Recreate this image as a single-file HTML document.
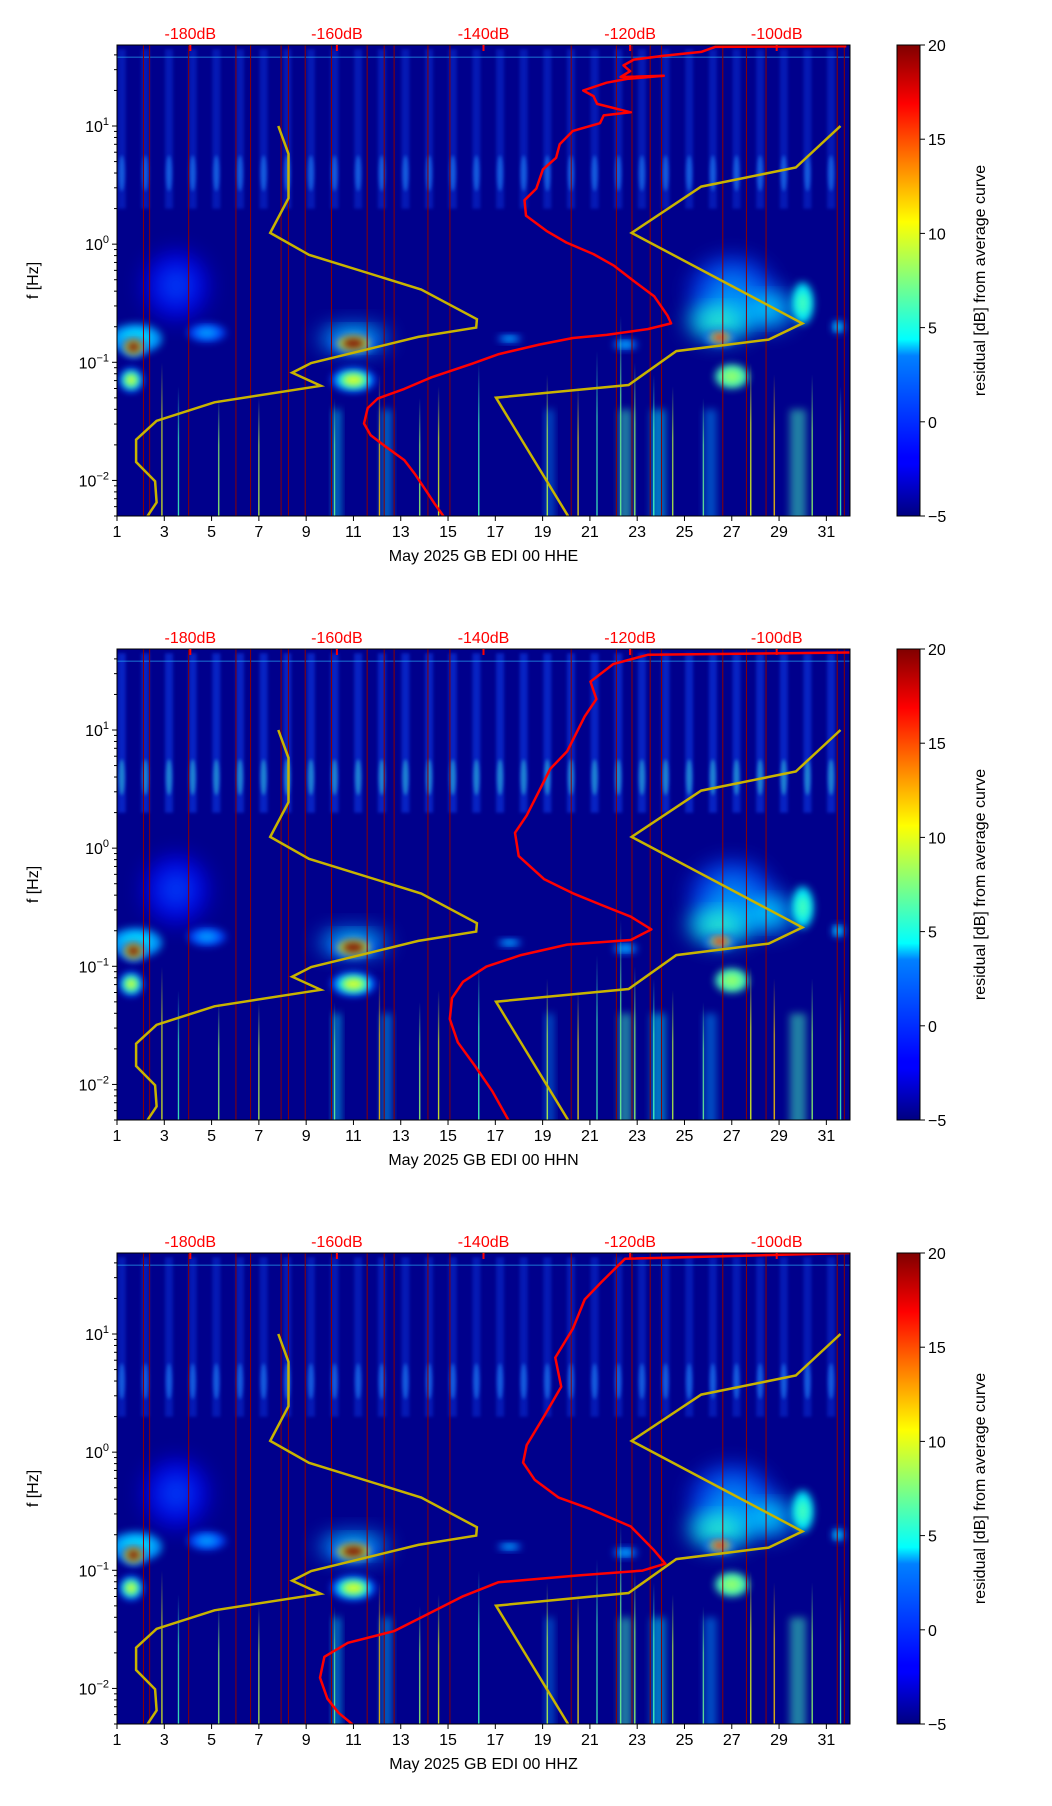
<!DOCTYPE html>
<html><head><meta charset="utf-8"><style>
html,body{margin:0;padding:0;background:#fff;}
svg{display:block;font-family:"Liberation Sans",sans-serif;}
</style></head><body>
<svg id="fig" width="1052" height="1806" viewBox="0 0 1052 1806" xmlns="http://www.w3.org/2000/svg">
<defs>
<filter id="b4" x="-50%" y="-50%" width="200%" height="200%"><feGaussianBlur stdDeviation="4"/></filter>
<filter id="b10" x="-50%" y="-50%" width="200%" height="200%"><feGaussianBlur stdDeviation="10"/></filter>
<filter id="b2" x="-50%" y="-50%" width="200%" height="200%"><feGaussianBlur stdDeviation="1.5"/></filter>
<linearGradient id="fadeUp" x1="0" y1="1" x2="0" y2="0">
<stop offset="0" stop-color="#fff" stop-opacity="1"/><stop offset="0.6" stop-color="#fff" stop-opacity="0.8"/><stop offset="1" stop-color="#fff" stop-opacity="0"/>
</linearGradient>
<mask id="spikeMask" maskContentUnits="objectBoundingBox"><rect x="0" y="0" width="1" height="1" fill="url(#fadeUp)"/></mask>
<linearGradient id="jet" x1="0" y1="1" x2="0" y2="0">
<stop offset="0" stop-color="#000080"/><stop offset="0.11" stop-color="#0000ff"/><stop offset="0.125" stop-color="#0000ff"/>
<stop offset="0.34" stop-color="#0080ff"/><stop offset="0.375" stop-color="#00ffff"/><stop offset="0.5" stop-color="#80ff80"/>
<stop offset="0.625" stop-color="#ffff00"/><stop offset="0.75" stop-color="#ff8000"/><stop offset="0.875" stop-color="#ff0000"/><stop offset="1" stop-color="#800000"/>
</linearGradient>
</defs>
</svg>
<script>
// ---- data ----
const dayTicks = [1,3,5,7,9,11,13,15,17,19,21,23,25,27,29,31];
const dbTicks = [-180,-160,-140,-120,-100];
const freqTickExps = [-2,-1,0,1];
const cbarTicks = [-5,0,5,10,15,20];
const panelTitles = ["May 2025 GB EDI 00 HHE","May 2025 GB EDI 00 HHN","May 2025 GB EDI 00 HHZ"];
const nlnmDb = [-168,-166.6,-166.6,-169.1,-163.8,-148.5,-140.9,-141,-148.9,-163.5,-166.1,-162.2,-176.7,-184.6,-187.4,-187.4,-184.8,-184.6,-185.9];
const nlnmLogF = [1.0,0.764,0.389,0.095,-0.09,-0.384,-0.635,-0.706,-0.785,-1.006,-1.088,-1.199,-1.339,-1.495,-1.655,-1.844,-2.007,-2.186,-2.307];
const nhnmDb = [-91.3,-97.4,-110.3,-119.8,-96.5,-101.1,-113.7,-120.2,-138.3,-128.4];
const nhnmLogF = [1.0,0.649,0.487,0.095,-0.671,-0.808,-0.905,-1.192,-1.3,-2.307];
const redDb1 = [-90.5,-108.4,-110.3,-115.4,-119.5,-120.9,-120,-121.3,-115.4,-120.4,-123.2,-126.4,-125,-124.5,-119.9,-123.6,-124.1,-127.8,-129.6,-130.1,-131.9,-132.8,-134.4,-134.2,-131.4,-128.7,-125,-122.2,-119.5,-116.7,-114.9,-114.4,-117.6,-123.2,-127.8,-132.4,-137.9,-141.6,-147.1,-150.8,-154.4,-155.8,-156.3,-155.4,-153.5,-150.8,-149.4,-148,-146.6,-145.4];
const redLogF1 = [1.676,1.670,1.627,1.595,1.562,1.513,1.464,1.415,1.425,1.399,1.367,1.301,1.253,1.187,1.116,1.09,1.024,0.959,0.845,0.731,0.633,0.47,0.372,0.242,0.112,0.014,-0.084,-0.182,-0.312,-0.442,-0.605,-0.671,-0.719,-0.768,-0.794,-0.85,-0.931,-1.013,-1.127,-1.225,-1.306,-1.388,-1.518,-1.616,-1.707,-1.828,-1.942,-2.072,-2.203,-2.307];
const redDb2 = [-90,-117.6,-122.3,-125.4,-124.6,-126.2,-128.6,-130.9,-132.5,-134.1,-135.7,-135.2,-131.7,-127.8,-123.9,-119.9,-117.1,-119.9,-128.6,-134.9,-139.6,-142.8,-144.3,-144.6,-143.5,-141.2,-138.8,-136.5];
const redLogF2 = [1.656,1.637,1.558,1.41,1.262,1.115,0.819,0.671,0.474,0.277,0.13,-0.067,-0.264,-0.382,-0.481,-0.58,-0.688,-0.777,-0.816,-0.905,-1.003,-1.131,-1.269,-1.446,-1.643,-1.84,-2.057,-2.313];
const redDb3 = [-90,-120.7,-123.9,-126.2,-127.8,-130.2,-129.4,-131.7,-134.1,-134.6,-133,-129.8,-125.4,-119.9,-116.8,-115.2,-118.3,-127,-138,-142.8,-147.5,-152.2,-158.5,-161.7,-162.3,-161.3,-159.8,-157.7];
const redLogF3 = [1.686,1.637,1.44,1.292,1.046,0.8,0.553,0.307,0.06,-0.088,-0.235,-0.383,-0.482,-0.629,-0.826,-0.944,-1.003,-1.043,-1.102,-1.22,-1.368,-1.515,-1.614,-1.732,-1.909,-2.087,-2.205,-2.313];
const gapDays = [2.12,2.38,4.03,6.03,6.65,7.94,8.25,8.96,10.07,11.58,12.3,12.72,14.15,15.08,20.21,22.12,22.78,23.55,24.03,26.62,27.62,28.45,31.46,31.76];
const blobDay = [3.5,27,28.5,30,1.8,11,1.7,11,1.6,11,26.5,26.5,27,17.6,4.8,22.5,31.5];
const blobLogF = [-0.35,-0.4,-0.55,-0.5,-0.8,-0.8,-0.87,-0.84,-1.15,-1.15,-0.65,-0.79,-1.12,-0.8,-0.75,-0.85,-0.7];
const blobW = [2.8,3.6,2.5,0.9,2.2,3.0,1.1,1.9,1.0,1.9,2.8,1.3,1.4,1.0,1.6,1.0,0.5];
const blobH = [0.6,0.6,0.35,0.35,0.25,0.25,0.18,0.18,0.2,0.2,0.35,0.13,0.2,0.06,0.15,0.08,0.1];
const blobVal = [0,2,4,6,4,4,20,20,10,10,6,16,8,3,2,3,4];
const spikeDay = [2.9,3.6,5.3,7,10.2,12.1,13.8,14.6,16.3,19.2,20.5,21.3,22.3,22.9,23.7,24.5,25.8,27.8,28.8,30.4,31.6];
const spikeTop = [-1.0,-1.2,-1.3,-1.3,-1.3,-1.1,-1.3,-1.2,-1.0,-1.1,-1.2,-0.9,-0.6,-1.0,-1.1,-1.2,-1.3,-1.0,-1.1,-1.1,-1.2];
const spikeVal = [10,6,8,9,7,12,8,10,6,9,11,6,7,8,6,9,7,10,12,8,6];
const glowDay = [10.3,12.4,22.5,23.9,29.8,26.1,19.3];
const glowW = [0.4,0.5,0.6,0.7,0.8,0.6,0.4];
const glowVal = [4,3,6,4,6,2,2];

// ---- layout ----
const NS = "http://www.w3.org/2000/svg";
const svg = document.getElementById('fig');
const L = 117, R = 850, PH = 471;
const tops = [45,649,1253];
const dMin = 1, dMax = 32, lfMin = Math.log10(0.005), lfMax = Math.log10(48.5), dbMin = -190, dbMax = -90;
const xDay = d => L + (d - dMin) / (dMax - dMin) * (R - L);
const xDb = v => L + (v - dbMin) / (dbMax - dbMin) * (R - L);
function yF(top){ return lf => top + (lfMax - lf) / (lfMax - lfMin) * PH; }
function jet(val){
  const v = Math.max(0, Math.min(1, (val + 5) / 25));
  const c = t => Math.round(255 * Math.max(0, Math.min(1, 1.5 - Math.abs(4 * v - t))));
  return `rgb(${c(3)},${c(2)},${c(1)})`;
}
function el(tag, attrs, parent){
  const e = document.createElementNS(NS, tag);
  for (const k in attrs) e.setAttribute(k, attrs[k]);
  (parent || svg).appendChild(e);
  return e;
}
function txt(s, attrs, parent){ const t = el('text', attrs, parent); t.textContent = s; return t; }

const reds = [[redDb1, redLogF1],[redDb2, redLogF2],[redDb3, redLogF3]];
const pxPerDay = (R - L) / (dMax - dMin);
const pxPerDec = PH / (lfMax - lfMin);

tops.forEach((top, pi) => {
  const y = yF(top);
  const g = el('g', {});
  
  
  const cp = el('clipPath', {id: 'clip' + pi}, g);
  el('rect', {x: L, y: top, width: R - L, height: PH}, cp);
  const inner = el('g', {'clip-path': `url(#clip${pi})`}, g);
  const bg = el('rect', {x: L, y: top, width: R - L, height: PH, fill: '#00008c'}, inner);
  
  
  for (let d = 1; d <= 31; d++) {
    const s = el('rect', {x: xDay(d + 0.2) - 4, y: y(1.65), width: 8, height: y(0.3) - y(1.65), fill: '#1040f0', opacity: pi === 1 ? 0.55 : 0.4, filter: 'url(#b2)'}, inner);
    
    
    const c = el('ellipse', {cx: xDay(d + 0.2), cy: y(0.6), rx: 3, ry: 18, fill: pi === 1 ? '#30d0e0' : '#2090ff', opacity: 0.55, filter: 'url(#b2)'}, inner);
    
    
  }
  glowDay.forEach((d, i) => {
    const r = el('rect', {x: xDay(d) - glowW[i] * 10, y: y(-1.4), width: glowW[i] * 20, height: y(lfMin) - y(-1.4) + 20, fill: jet(glowVal[i]), opacity: 0.5, filter: 'url(#b4)'}, inner);
    
    
  });
  blobDay.forEach((d, i) => {
    const v = blobVal[i];
    const levels = v > 8 ? [[1, 0], [0.75, v * 0.45], [0.5, v]] : [[1, v - 2], [0.55, v]];
    levels.forEach(([sc, lv]) => {
      const e = el('ellipse', {cx: xDay(d), cy: y(blobLogF[i]), rx: sc * blobW[i] / 2 * pxPerDay, ry: sc * blobH[i] / 2 * pxPerDec, fill: jet(lv), opacity: blobW[i] > 2.4 ? 0.7 : 0.95, filter: blobW[i] > 2.4 ? 'url(#b10)' : 'url(#b4)'}, inner);
      
      
    });
  });
  spikeDay.forEach((d, i) => {
    const s = el('rect', {x: xDay(d) - 0.8, y: y(spikeTop[i]), width: 1.6, height: y(lfMin) - y(spikeTop[i]), fill: jet(spikeVal[i]), mask: 'url(#spikeMask)', opacity: 0.85}, inner);
    
    
  });
  const hl = el('rect', {x: L, y: y(1.58) - 1, width: R - L, height: 1.5, fill: '#30c0ff', opacity: 0.4}, inner);
  
  
  gapDays.forEach(d => {
    const l = el('line', {x1: xDay(d), x2: xDay(d), y1: top, y2: top + PH, stroke: '#8b0000', 'stroke-width': 1}, inner);
    
    
  });
  const mk = (dbs, lfs) => dbs.map((v, i) => `${xDb(v).toFixed(1)},${y(lfs[i]).toFixed(1)}`).join(' ');
  const lo = el('polyline', {points: mk(nlnmDb, nlnmLogF), fill: 'none', stroke: '#c8b400', 'stroke-width': 2.5}, inner);
  
  
  const hi = el('polyline', {points: mk(nhnmDb, nhnmLogF), fill: 'none', stroke: '#c8b400', 'stroke-width': 2.5}, inner);
  
  
  const rd = el('polyline', {points: mk(reds[pi][0], reds[pi][1]), fill: 'none', stroke: '#ff0000', 'stroke-width': 2.5, 'stroke-linejoin': 'round'}, inner);
  
  
  const fr = el('rect', {x: L, y: top, width: R - L, height: PH, fill: 'none', stroke: '#000', 'stroke-width': 1}, g);
  
  
  dayTicks.forEach(d => {
    el('line', {x1: xDay(d), x2: xDay(d), y1: top + PH, y2: top + PH + 5, stroke: '#000'}, g);
    const t = txt(String(d), {x: xDay(d), y: top + PH + 21, 'font-size': 16, 'text-anchor': 'middle'}, g);
    
    
  });
  const xl = txt(panelTitles[pi], {x: (L + R) / 2, y: top + PH + 45, 'font-size': 16, 'text-anchor': 'middle'}, g);
  
  
  for (let e = -3; e <= 1; e++) for (let m = 1; m < 10; m++) {
    const lf = e + Math.log10(m);
    if (lf < lfMin || lf > lfMax) continue;
    el('line', {x1: L - (m === 1 ? 5 : 3), x2: L, y1: y(lf), y2: y(lf), stroke: '#000'}, g);
  }
  freqTickExps.forEach(e => {
    const t = el('text', {x: L - 8, y: y(e) + 6, 'font-size': 16, 'text-anchor': 'end'}, g);
    t.innerHTML = `10<tspan dy="-7" font-size="11">${e < 0 ? '\u2212' + (-e) : e}</tspan>`;
    
    
  });
  const yl = txt('f [Hz]', {x: 38, y: top + PH / 2, 'font-size': 16, 'text-anchor': 'middle', transform: `rotate(-90 38 ${top + PH / 2})`}, g);
  
  
  dbTicks.forEach(v => {
    el('line', {x1: xDb(v), x2: xDb(v), y1: top, y2: top + 6, stroke: '#ff0000', 'stroke-width': 2}, g);
    const t = txt(v + 'dB', {x: xDb(v), y: top - 6, 'font-size': 16, 'text-anchor': 'middle', fill: '#ff0000'}, g);
    
    
  });
  const cb = el('rect', {x: 897, y: top, width: 23, height: PH, fill: 'url(#jet)', stroke: '#000', 'stroke-width': 1}, g);
  
  
  cbarTicks.forEach(v => {
    const cy = top + PH - (v + 5) / 25 * PH;
    el('line', {x1: 920, x2: 925, y1: cy, y2: cy, stroke: '#000'}, g);
    const t = txt(v < 0 ? '\u2212' + (-v) : String(v), {x: 928, y: cy + 6, 'font-size': 16}, g);
    
    
  });
  const cl = txt('residual [dB] from average curve', {x: 985, y: top + PH / 2, 'font-size': 16, 'text-anchor': 'middle', transform: `rotate(-90 985 ${top + PH / 2})`}, g);
  
  
});
</script>
</body></html>
